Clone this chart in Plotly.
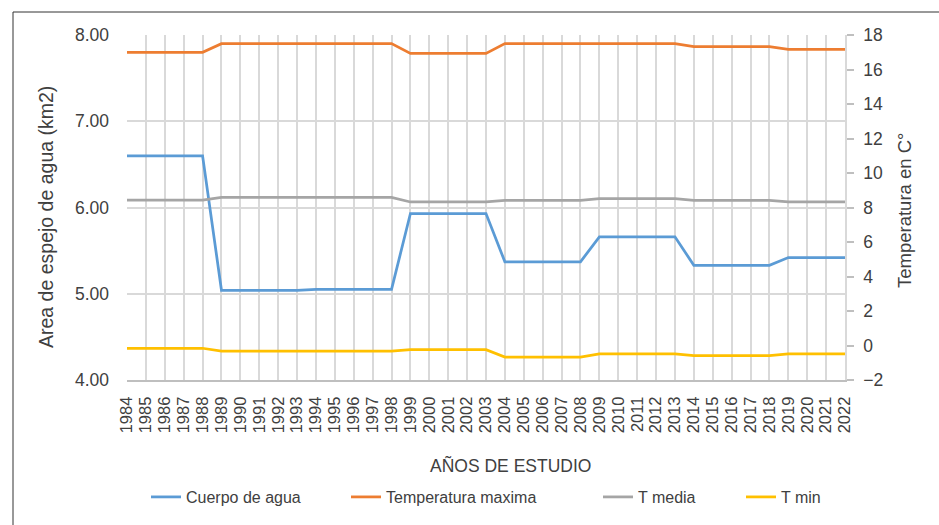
import plotly.graph_objects as go

years = ["1984", "1985", "1986", "1987", "1988", "1989", "1990", "1991", "1992", "1993",
         "1994", "1995", "1996", "1997", "1998", "1999", "2000", "2001", "2002", "2003",
         "2004", "2005", "2006", "2007", "2008", "2009", "2010", "2011", "2012", "2013",
         "2014", "2015", "2016", "2017", "2018", "2019", "2020", "2021", "2022"]

cuerpo_agua = [6.60, 6.60, 6.60, 6.60, 6.60,
               5.04, 5.04, 5.04, 5.04, 5.04,
               5.05, 5.05, 5.05, 5.05, 5.05,
               5.93, 5.93, 5.93, 5.93, 5.93,
               5.37, 5.37, 5.37, 5.37, 5.37,
               5.66, 5.66, 5.66, 5.66, 5.66,
               5.33, 5.33, 5.33, 5.33, 5.33,
               5.42, 5.42, 5.42, 5.42]

temp_max = [17.00, 17.00, 17.00, 17.00, 17.00,
            17.50, 17.50, 17.50, 17.50, 17.50,
            17.50, 17.50, 17.50, 17.50, 17.50,
            16.93, 16.93, 16.93, 16.93, 16.93,
            17.50, 17.50, 17.50, 17.50, 17.50,
            17.50, 17.50, 17.50, 17.50, 17.50,
            17.33, 17.33, 17.33, 17.33, 17.33,
            17.17, 17.17, 17.17, 17.17]

t_media = [8.43, 8.43, 8.43, 8.43, 8.43,
           8.59, 8.59, 8.59, 8.59, 8.59,
           8.59, 8.59, 8.59, 8.59, 8.59,
           8.32, 8.32, 8.32, 8.32, 8.32,
           8.42, 8.42, 8.42, 8.42, 8.42,
           8.51, 8.51, 8.51, 8.51, 8.51,
           8.42, 8.42, 8.42, 8.42, 8.42,
           8.32, 8.32, 8.32, 8.32]

t_min = [-0.16, -0.16, -0.16, -0.16, -0.16,
         -0.32, -0.32, -0.32, -0.32, -0.32,
         -0.32, -0.32, -0.32, -0.32, -0.32,
         -0.24, -0.24, -0.24, -0.24, -0.24,
         -0.67, -0.67, -0.67, -0.67, -0.67,
         -0.49, -0.49, -0.49, -0.49, -0.49,
         -0.59, -0.59, -0.59, -0.59, -0.59,
         -0.49, -0.49, -0.49, -0.49]

W, H = 939, 525
L, R, T, B = 127, 94, 35, 145
PW, PH = W - L - R, H - T - B

def px(x):
    return (x - L) / PW

def py(y):
    return (H - B - y) / PH

FONT = "Liberation Sans, Arial, sans-serif"
TXT = "#404040"

fig = go.Figure()
fig.add_trace(go.Scatter(x=years, y=cuerpo_agua, name="Cuerpo de agua", mode="lines",
                         line=dict(color="#5B9BD5", width=2.75), yaxis="y", legend="legend"))
fig.add_trace(go.Scatter(x=years, y=temp_max, name="Temperatura maxima", mode="lines",
                         line=dict(color="#ED7D31", width=2.75), yaxis="y2", legend="legend2"))
fig.add_trace(go.Scatter(x=years, y=t_media, name="T media", mode="lines",
                         line=dict(color="#A5A5A5", width=2.75), yaxis="y2", legend="legend3"))
fig.add_trace(go.Scatter(x=years, y=t_min, name="T min", mode="lines",
                         line=dict(color="#FFC000", width=2.75), yaxis="y2", legend="legend4"))

leg_common = dict(orientation="h", yanchor="middle", y=py(497), xanchor="left",
                  font=dict(family=FONT, size=16, color=TXT), bgcolor="rgba(0,0,0,0)")
text_starts = [186, 386, 638, 781]
fig.update_layout(
    legend=dict(x=px(text_starts[0] - 40), **leg_common),
    legend2=dict(x=px(text_starts[1] - 40), **leg_common),
    legend3=dict(x=px(text_starts[2] - 40), **leg_common),
    legend4=dict(x=px(text_starts[3] - 40), **leg_common),
)

fig.update_layout(
    width=W, height=H,
    margin=dict(l=L, r=R, t=T, b=B, autoexpand=False),
    paper_bgcolor="white", plot_bgcolor="white",
    showlegend=True,
    xaxis=dict(type="category", range=[0, len(years) - 1], showgrid=True,
               tickmode="array", tickvals=years, ticktext=years,
               gridcolor="#d9d9d9", gridwidth=1.5, tickangle=-90,
               tickfont=dict(family=FONT, size=16.5, color=TXT),
               showline=True, linecolor="#bfbfbf", linewidth=2, ticks="",
               ticklabelstandoff=8, zeroline=False),
    yaxis=dict(range=[4, 8], dtick=1, tickformat=".2f", showgrid=True,
               gridcolor="#d9d9d9", gridwidth=1.5, zeroline=False,
               tickfont=dict(family=FONT, size=17.5, color=TXT), ticks="",
               ticklabelstandoff=17),
    yaxis2=dict(range=[-2, 18], dtick=2, overlaying="y", side="right", showgrid=False,
                zeroline=False, showline=True, linecolor="#d9d9d9", linewidth=1.5,
                ticks="outside", ticklen=7, tickcolor="#bfbfbf", tickwidth=1.5,
                tickfont=dict(family=FONT, size=17.5, color=TXT), ticklabelstandoff=6),
)

fig.add_annotation(text="Area de espejo de agua (km2)", xref="paper", yref="paper",
                   x=px(46), y=py(217), xanchor="center", yanchor="middle",
                   textangle=-90, showarrow=False,
                   font=dict(family=FONT, size=19.5, color=TXT))
fig.add_annotation(text="Temperatura en C°", xref="paper", yref="paper",
                   x=px(904), y=py(211), xanchor="center", yanchor="middle",
                   textangle=-90, showarrow=False,
                   font=dict(family=FONT, size=18.5, color=TXT))
fig.add_annotation(text="AÑOS DE ESTUDIO", xref="paper", yref="paper",
                   x=px(510), y=py(465), xanchor="center", yanchor="middle",
                   showarrow=False,
                   font=dict(family=FONT, size=17.5, color=TXT))

# chart frame (left and top edges visible)
fig.add_shape(type="line", xref="paper", yref="paper", x0=px(13), x1=px(13),
              y0=py(540), y1=py(12), line=dict(color="#333333", width=1))
fig.add_shape(type="line", xref="paper", yref="paper", x0=px(13), x1=px(950),
              y0=py(12), y1=py(12), line=dict(color="#333333", width=1))

fig.write_html("out.html", config={"displayModeBar": False},
               post_script="document.body.style.margin='0';document.body.style.overflow='hidden';")
